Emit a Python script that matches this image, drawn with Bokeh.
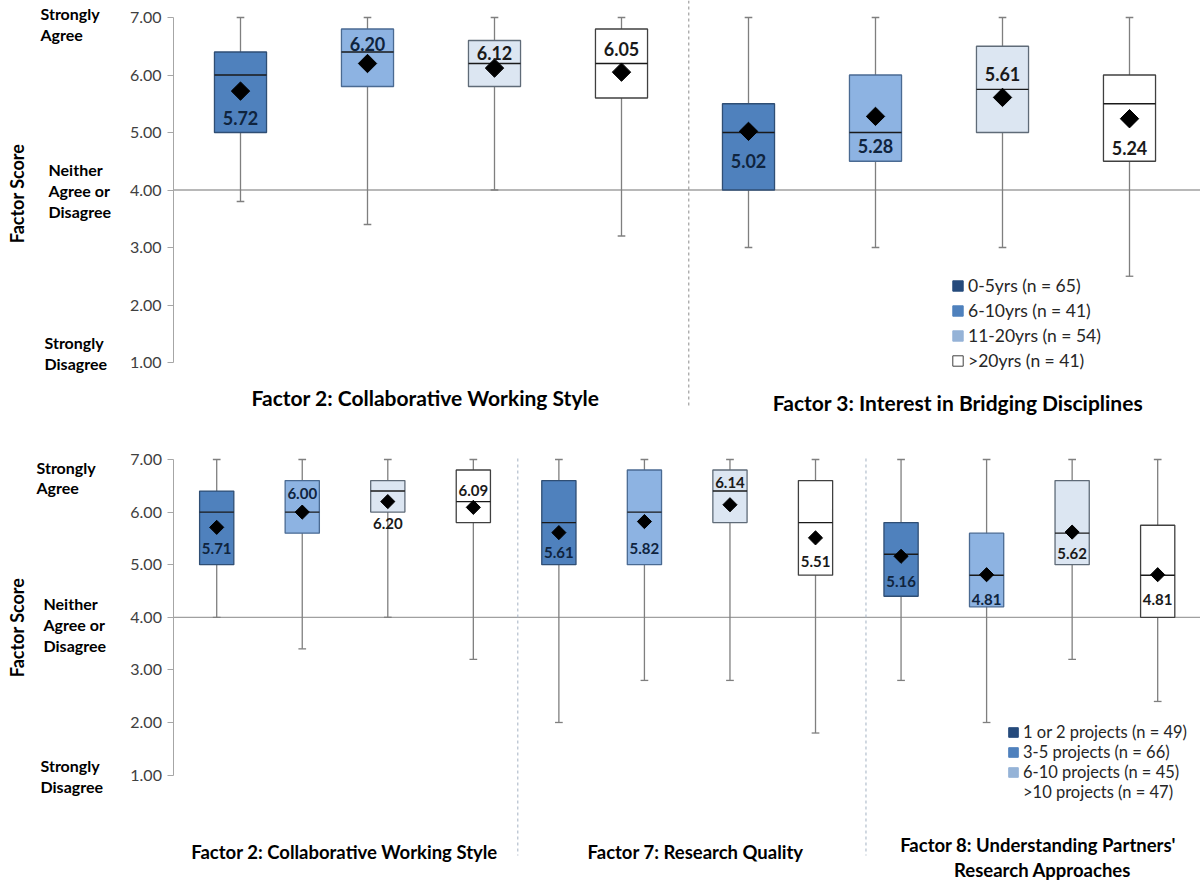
import math
from bokeh.plotting import figure
from bokeh.models import (Range1d, Label, Legend, LegendItem, FixedTicker,
                          ColumnDataSource, NumeralTickFormatter)
from bokeh.layouts import column
from bokeh.embed import file_html
from bokeh.resources import INLINE
from bokeh.core.properties import value

# ---------------- data ----------------
top_groups = ["Factor 2: Collaborative Working Style",
              "Factor 3: Interest in Bridging  Disciplines"]
top_series = ["0-5yrs (n = 65)", "6-10yrs (n = 41)", "11-20yrs (n = 54)", ">20yrs (n = 41)"]
top_min = [3.8, 3.4, 4.0, 3.2, 3.0, 3.0, 3.0, 2.5]
top_q1 = [5.0, 5.8, 5.8, 5.6, 4.0, 4.5, 5.0, 4.5]
top_med = [6.0, 6.4, 6.2, 6.2, 5.0, 5.0, 5.75, 5.5]
top_q3 = [6.4, 6.8, 6.6, 6.8, 5.5, 6.0, 6.5, 6.0]
top_max = [7.0, 7.0, 7.0, 7.0, 7.0, 7.0, 7.0, 7.0]
top_mean = [5.72, 6.20, 6.12, 6.05, 5.02, 5.28, 5.61, 5.24]

bot_groups = ["Factor 2: Collaborative Working Style",
              "Factor 7: Research Quality",
              "Factor 8:  Understanding  Partners'", "Research Approaches"]
bot_series = ["1 or 2 projects (n = 49)", "3-5 projects (n = 66)",
              "6-10 projects (n = 45)", ">10 projects (n = 47)"]
bot_min = [4.0, 3.4, 4.0, 3.2, 2.0, 2.8, 2.8, 1.8, 2.8, 2.0, 3.2, 2.4]
bot_q1 = [5.0, 5.6, 6.0, 5.8, 5.0, 5.0, 5.8, 4.8, 4.4, 4.2, 5.0, 4.0]
bot_med = [6.0, 6.0, 6.4, 6.2, 5.8, 6.0, 6.4, 5.8, 5.2, 4.8, 5.6, 4.8]
bot_q3 = [6.4, 6.6, 6.6, 6.8, 6.6, 6.8, 6.8, 6.6, 5.8, 5.6, 6.6, 5.75]
bot_max = [7.0] * 12
bot_mean = [5.71, 6.00, 6.20, 6.09, 5.61, 5.82, 6.14, 5.51, 5.16, 4.81, 5.62, 4.81]

y_ticks = [1, 2, 3, 4, 5, 6, 7]
neutral = 4

# ---------------- styles ----------------
FONT = "Lato"
box_fill = ["#4F81BD", "#8DB3E2", "#DCE6F2", "#FFFFFF"]
box_line = ["#2F4E74", "#4A6A92", "#5F6B78", "#404040"]
txt_col = ["#0F243E", "#0F243E", "#1A1A1A", "#1A1A1A"]
leg_fill = ["#254A7C", "#4F81BD", "#95B3D7", "#FFFFFF"]
top_dy = [27, -20, -15, -23, 30, 30, -23, 29]
bot_dy = [21, -19, 22, -17, 20, 27, -22, 24, 25, 25, 21, 25]

W = 1200


def base_fig(h, xr, yr, axis_x):
    p = figure(width=W, height=h, x_range=Range1d(*xr), y_range=Range1d(*yr),
               x_axis_type=None, output_backend="svg", toolbar_location=None,
               min_border_left=0, min_border_right=0, min_border_top=0, min_border_bottom=0)
    p.outline_line_color = None
    p.xgrid.visible = False
    p.ygrid.visible = False
    ax = p.yaxis[0]
    ax.fixed_location = axis_x
    ax.ticker = FixedTicker(ticks=y_ticks)
    ax.formatter = NumeralTickFormatter(format="0.00")
    ax.bounds = (1, 7)
    ax.axis_line_color = "#A6A6A6"
    ax.major_tick_line_color = "#A6A6A6"
    ax.minor_tick_line_color = None
    ax.major_tick_out = 6
    ax.major_tick_in = 0
    ax.major_label_standoff = 6
    ax.major_label_text_font = FONT
    ax.major_label_text_font_size = "16px"
    ax.major_label_text_color = "#404040"
    p.segment(x0=[axis_x], y0=[neutral], x1=[xr[1]], y1=[neutral],
              line_color="#A0A0A0", line_width=1.3)
    return p


def boxes(p, mins, q1, med, q3, maxs, means, dys, bw, cw, dsize, fsize):
    n = len(means)
    xs = [i + 0.5 for i in range(n)]
    src = ColumnDataSource(dict(
        x=xs, lo=mins, q1=q1, med=med, q3=q3, hi=maxs, mean=means,
        l0=[x - bw / 2 for x in xs], l1=[x + bw / 2 for x in xs],
        c0=[x - cw / 2 for x in xs], c1=[x + cw / 2 for x in xs],
        fill=[box_fill[i % 4] for i in range(n)], line=[box_line[i % 4] for i in range(n)],
        tc=[txt_col[i % 4] for i in range(n)],
        lab=[f"{m:.2f}" for m in means], dy=dys))
    p.segment(x0="x", y0="lo", x1="x", y1="hi", line_color="#7F7F7F", line_width=1.3, source=src)
    p.segment(x0="c0", y0="lo", x1="c1", y1="lo", line_color="#7F7F7F", line_width=1.3, source=src)
    p.segment(x0="c0", y0="hi", x1="c1", y1="hi", line_color="#7F7F7F", line_width=1.3, source=src)
    p.vbar(x="x", width=bw, bottom="q1", top="q3", fill_color="fill", line_color="line",
           line_width=1.3, source=src)
    p.segment(x0="l0", y0="med", x1="l1", y1="med", line_color="#1A1A1A", line_width=1.4, source=src)
    p.scatter(x="x", y="mean", marker="square", angle=math.pi / 4, size=dsize,
              fill_color="black", line_color="black", source=src)
    p.text(x="x", y="mean", text="lab", y_offset="dy", text_align="center",
           text_baseline="middle", text_font=value(FONT), text_font_style="bold",
           text_font_size=fsize, text_color="tc", source=src)


def add_legend(p, names, loc, lines, fsize, lh, gs, xoff):
    items = []
    for name, fc, lc in zip(names, leg_fill, lines):
        r = p.rect(x=[xoff], y=[0], width=0.01, height=0.01, fill_color=fc,
                   line_color=lc, line_width=1)
        items.append(LegendItem(label=name, renderers=[r]))
    lg = Legend(items=items, location=loc, border_line_color=None, background_fill_alpha=0,
                padding=0, margin=0, spacing=0, glyph_width=gs, glyph_height=gs,
                label_height=lh, label_standoff=4, label_text_font=FONT,
                label_text_font_size=fsize, label_text_color="#262626")
    p.add_layout(lg)


def lab(p, sx, sy, text, size, align="left", angle=0.0, bold=True):
    p.add_layout(Label(x=sx, y=sy, x_units="screen", y_units="screen", text=text,
                       text_align=align, text_baseline="middle", angle=angle,
                       text_font=FONT, text_font_style="bold" if bold else "normal",
                       text_font_size=size, text_color="#000000"))


# ---------------- top panel ----------------
H1 = 420
u1 = 57.5
y7_1 = 17.0
x0_1, dx_1 = 176.5, 127.0
yr1 = (7 - (H1 - y7_1) / u1, 7 + y7_1 / u1)
xr1 = (-x0_1 / dx_1, (W - x0_1) / dx_1)
p1 = base_fig(H1, xr1, yr1, (173 - x0_1) / dx_1)
boxes(p1, top_min, top_q1, top_med, top_q3, top_max, top_mean, top_dy, 0.41, 0.06, 13, "18px")

for xd in [4.03]:
    p1.segment(x0=[xd], y0=[yr1[1]], x1=[xd], y1=[7 - (405 - y7_1) / u1],
               line_color="#8C8C8C", line_width=1, line_dash="3 3")


def t1(rx, ry):
    return rx, H1 - ry


add_legend(p1, top_series, (951, 47), ["#254A7C", "#4F81BD", "#95B3D7", "#404040"],
           "17.5px", 25, 13, xr1[0] - 5)

for (rx, ry, t) in [(40, 13, "Strongly"), (40, 34, "Agree"),
                    (48, 169, "Neither"), (48, 190, "Agree or"), (48, 211, "Disagree"),
                    (44, 342, "Strongly"), (44, 363, "Disagree")]:
    lab(p1, *t1(rx, ry), t, "16px")
lab(p1, *t1(16, 193), "Factor Score", "18px", align="center", angle=math.pi / 2)
lab(p1, *t1(425, 397), top_groups[0], "21px", align="center")
lab(p1, *t1(960, 402), top_groups[1], "21px", align="center")

# ---------------- bottom panel ----------------
H2 = 460
u2 = 52.6
y7_2 = 39.0
x0_2, dx_2 = 173.0, 85.33
yr2 = (7 - (H2 - y7_2) / u2, 7 + y7_2 / u2)
xr2 = (-x0_2 / dx_2, (1197 - x0_2) / dx_2)
p2 = base_fig(H2, xr2, yr2, 0.0)
boxes(p2, bot_min, bot_q1, bot_med, bot_q3, bot_max, bot_mean, bot_dy, 0.40, 0.09, 10, "15px")


def y2(ry):
    return 7 - ((ry - 420) - y7_2) / u2


for xd in [4.02, 8.09]:
    p2.segment(x0=[xd], y0=[y2(458)], x1=[xd], y1=[y2(855)],
               line_color="#A3B1C2", line_width=1, line_dash="3 3")


def t2(rx, ry):
    return rx, H2 - (ry - 420)


add_legend(p2, bot_series, (1007, 78), ["#254A7C", "#4F81BD", "#95B3D7", None],
           "16.5px", 20, 12, xr2[0] - 5)

for (rx, ry, t) in [(36, 467, "Strongly"), (36, 487, "Agree"),
                    (43, 603, "Neither"), (43, 624, "Agree or"), (43, 645, "Disagree"),
                    (40, 765, "Strongly"), (40, 786, "Disagree")]:
    lab(p2, *t2(rx, ry), t, "16px")
lab(p2, *t2(16, 627), "Factor Score", "18px", align="center", angle=math.pi / 2)
lab(p2, *t2(344, 851), bot_groups[0], "18.5px", align="center")
lab(p2, *t2(695, 851), bot_groups[1], "18.5px", align="center")
lab(p2, *t2(1042, 844), bot_groups[2], "18.5px", align="center")
lab(p2, *t2(1042, 869), bot_groups[3], "18.5px", align="center")

layout = column(p1, p2, spacing=0)
open("out.html", "w").write(file_html(layout, INLINE))
